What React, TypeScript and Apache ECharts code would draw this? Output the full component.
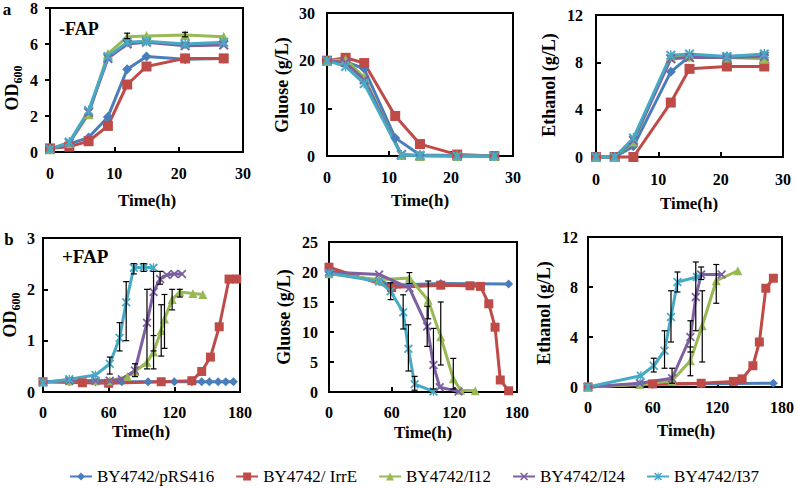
import React, { useEffect, useRef } from 'react';
import * as echarts from 'echarts';

// ---------- data ----------
const seriesNames = ['BY4742/pRS416', 'BY4742/ IrrE', 'BY4742/I12', 'BY4742/I24', 'BY4742/I37'];
const colors = ['#4A7EBB', '#BE4B48', '#98B954', '#7D60A0', '#46AAC5'];

// panel a: -FAP
const aTime = [0, 3, 6, 9, 12, 15, 21, 27];
const a1Blue = [0.2, 0.45, 0.8, 1.95, 4.6, 5.3, 5.15, 5.2];
const a1Red = [0.2, 0.3, 0.6, 1.45, 3.75, 4.75, 5.2, 5.2];
const a1Green = [0.15, 0.5, 2.1, 5.45, 6.4, 6.45, 6.5, 6.4];
const a1Purple = [0.15, 0.5, 2.2, 5.2, 6.0, 6.1, 5.9, 5.95];
const a1Cyan = [0.15, 0.55, 2.3, 5.3, 6.1, 6.15, 6.0, 6.1];
const a1Err = [[12, 6.3, 6.6], [21, 6.4, 6.65]];

const a2TimeSlow = [0, 3, 6, 11, 15, 21, 27];
const a2Time = [0, 3, 6, 12, 15, 21, 27];
const a2Blue = [20, 19.8, 18.3, 3.8, 0.2, 0.1, 0];
const a2Red = [20, 20.6, 19.5, 8.4, 2.5, 0.3, 0];
const a2Green = [20, 20.2, 16.5, 0.2, 0, 0, 0];
const a2Purple = [20, 19.6, 16, 0.3, 0.1, 0, 0];
const a2Cyan = [20, 18.8, 15.2, 0.2, 0.1, 0, 0];

const a3Time = [0, 3, 6, 12, 15, 21, 27];
const a3Blue = [0, 0, 0.9, 7.2, 8.5, 8.5, 8.6];
const a3Red = [0, 0, 0, 4.6, 7.45, 7.65, 7.65];
const a3Green = [0, 0, 1.3, 8.5, 8.5, 8.4, 8.3];
const a3Purple = [0, 0, 1.4, 8.3, 8.4, 8.4, 8.5];
const a3Cyan = [0, 0, 1.6, 8.6, 8.7, 8.5, 8.7];

// panel b: +FAP
const b1BlueT = [0, 24, 48, 72, 96, 120, 136, 145, 152, 160, 167, 174];
const b1BlueV = [0.2, 0.2, 0.2, 0.2, 0.2, 0.2, 0.2, 0.2, 0.2, 0.2, 0.2, 0.2];
const b1RedT = [0, 36, 60, 108, 136, 145, 153, 161, 170, 177];
const b1RedV = [0.2, 0.18, 0.17, 0.2, 0.22, 0.4, 0.68, 1.27, 2.2, 2.2];
const b1GreenT = [0, 24, 48, 61, 77, 84, 95, 101, 108, 111, 118, 125, 137, 146];
const b1GreenV = [0.2, 0.22, 0.22, 0.22, 0.3, 0.4, 0.58, 0.78, 1.2, 1.42, 1.8, 1.95, 1.92, 1.9];
const b1PurpleT = [0, 24, 48, 61, 72, 84, 95, 101, 107, 113, 120, 127];
const b1PurpleV = [0.2, 0.22, 0.22, 0.22, 0.25, 0.42, 1.35, 1.95, 2.2, 2.28, 2.3, 2.3];
const b1CyanT = [0, 24, 48, 61, 70, 76, 83, 92, 101];
const b1CyanV = [0.18, 0.25, 0.33, 0.55, 1.05, 1.75, 2.42, 2.43, 2.42];
const b1Err = [
  [61, 0.35, 0.68], [70, 0.8, 1.35], [76, 1.0, 2.15], [83, 2.3, 2.5], [92, 2.35, 2.5],
  [84, 0.3, 0.55], [95, 0.45, 2.0], [101, 0.8, 2.35], [107, 2.1, 2.35],
  [101, 0.45, 1.1], [108, 0.7, 1.7], [111, 0.85, 1.9], [118, 1.6, 2.0], [125, 1.85, 2.0],
];

const b2BlueT = [0, 48, 60, 107, 172];
const b2BlueV = [20, 18.5, 17.8, 18.1, 18.0];
const b2RedT = [0, 60, 107, 135, 145, 153, 159, 164, 172];
const b2RedV = [20.8, 17.4, 17.8, 17.7, 17.6, 14.7, 10.8, 2.0, 0.2];
const b2GreenT = [0, 48, 77, 95, 107, 119, 126, 140];
const b2GreenV = [19.7, 18.7, 19.0, 15.3, 9.2, 2.2, 0.3, 0.2];
const b2PurpleT = [0, 48, 77, 94, 100, 106, 124];
const b2PurpleV = [20, 19.6, 17.3, 10.9, 4.5, 0.8, 0.1];
const b2CyanT = [0, 48, 59, 71, 76, 82, 100];
const b2CyanV = [19.8, 18.4, 16.8, 13.3, 7.2, 1.3, 0.1];
const b2Err = [
  [59, 15.4, 18.2], [71, 10.5, 16.2], [76, 3.5, 11.2], [82, 0.3, 2.6],
  [94, 7.6, 14.3], [100, 0.5, 10.6],
  [77, 18.1, 19.9], [95, 12.2, 18.5], [107, 4.5, 15], [119, 0.5, 5.6],
];

const b3BlueT = [0, 48, 60, 105, 172];
const b3BlueV = [0, 0.25, 0.2, 0.25, 0.3];
const b3RedT = [0, 60, 105, 135, 143, 153, 159, 165, 172];
const b3RedV = [0, 0.25, 0.3, 0.45, 0.65, 1.7, 3.6, 7.9, 8.7];
const b3GreenT = [0, 48, 78, 95, 106, 119, 139];
const b3GreenV = [0, 0.2, 0.5, 2.1, 4.9, 8.5, 9.3];
const b3PurpleT = [0, 48, 78, 95, 100, 105, 124];
const b3PurpleV = [0, 0.3, 0.7, 4.0, 7.2, 9.0, 9.0];
const b3CyanT = [0, 49, 61, 71, 77, 83, 101];
const b3CyanV = [0, 0.9, 1.7, 2.9, 5.6, 8.4, 8.8];
const b3Err = [
  [61, 1.2, 2.3], [71, 1.5, 4.5], [77, 3.6, 7.7], [83, 7.6, 9.2],
  [78, 0.3, 1.5], [95, 2.8, 5.3], [100, 4.5, 10.0], [105, 8.6, 9.6],
  [95, 0.9, 3.2], [106, 2.0, 7.7], [119, 6.7, 9.8],
];

// ---------- styling ----------
const SERIF = "'Liberation Serif', 'Times New Roman', serif";
const X_PATH = 'path://M0,1.4L1.4,0L10,8.6L8.6,10Z M8.6,0L10,1.4L1.4,10L0,8.6Z';
const STAR_PATH = 'path://M0,1.4L1.4,0L10,8.6L8.6,10Z M8.6,0L10,1.4L1.4,10L0,8.6Z M4.3,0L5.7,0L5.7,10L4.3,10Z';
const symbols = ['diamond', 'rect', 'triangle', X_PATH, STAR_PATH];

type Panel = {
  l: number; t: number; w: number; h: number;
  xMax: number; xInt: number; yMax: number; yInt: number;
  xm: number; ym: number; yTickOut?: boolean; sym: number;
  series: [number[], number[]][];
  err: number[][];
};

const panels: Panel[] = [
  {
    l: 50, t: 7, w: 193, h: 145, xMax: 30, xInt: 10, yMax: 8, yInt: 2, xm: 13, ym: 12, yTickOut: true, sym: 10,
    series: [[aTime, a1Blue], [aTime, a1Red], [aTime, a1Green], [aTime, a1Purple], [aTime, a1Cyan]], err: a1Err,
  },
  {
    l: 327, t: 13, w: 186, h: 143, xMax: 30, xInt: 10, yMax: 30, yInt: 10, xm: 13, ym: 12, sym: 10,
    series: [[a2TimeSlow, a2Blue], [a2TimeSlow, a2Red], [a2Time, a2Green], [a2Time, a2Purple], [a2Time, a2Cyan]], err: [],
  },
  {
    l: 596, t: 15, w: 187, h: 142, xMax: 30, xInt: 10, yMax: 12, yInt: 4, xm: 14, ym: 13, sym: 10,
    series: [[a3Time, a3Blue], [a3Time, a3Red], [a3Time, a3Green], [a3Time, a3Purple], [a3Time, a3Cyan]], err: [],
  },
  {
    l: 43, t: 238, w: 197, h: 154, xMax: 180, xInt: 60, yMax: 3, yInt: 1, xm: 12, ym: 8, sym: 9,
    series: [[b1BlueT, b1BlueV], [b1RedT, b1RedV], [b1GreenT, b1GreenV], [b1PurpleT, b1PurpleV], [b1CyanT, b1CyanV]], err: b1Err,
  },
  {
    l: 329, t: 242, w: 188, h: 150, xMax: 180, xInt: 60, yMax: 25, yInt: 5, xm: 12, ym: 11, sym: 9,
    series: [[b2BlueT, b2BlueV], [b2RedT, b2RedV], [b2GreenT, b2GreenV], [b2PurpleT, b2PurpleV], [b2CyanT, b2CyanV]], err: b2Err,
  },
  {
    l: 588, t: 237, w: 197, h: 150, xMax: 180, xInt: 60, yMax: 12, yInt: 4, xm: 12, ym: 10, sym: 9,
    series: [[b3BlueT, b3BlueV], [b3RedT, b3RedV], [b3GreenT, b3GreenV], [b3PurpleT, b3PurpleV], [b3CyanT, b3CyanV]], err: b3Err,
  },
];

const xNames = [[147, 200], [420, 200], [689, 203], [141, 431], [423, 432], [686, 430]];
const yNames: [string, number, number][] = [
  ['{a|OD}{s|600}', 12, 88],
  ['Gluose (g/L)', 282, 85],
  ['Ethanol (g/L)', 549, 85],
  ['{a|OD}{s|600}', 10, 315],
  ['Gluose (g/L)', 284, 317],
  ['Ethanol (g/L)', 544, 313],
];

const errRender = (params: any, api: any) => {
  const x = api.value(0);
  const p1 = api.coord([x, api.value(1)]);
  const p2 = api.coord([x, api.value(2)]);
  const w = 3;
  const st = { stroke: '#000', lineWidth: 1.2 };
  return {
    type: 'group',
    children: [
      { type: 'line', shape: { x1: p1[0], y1: p1[1], x2: p2[0], y2: p2[1] }, style: st },
      { type: 'line', shape: { x1: p1[0] - w, y1: p1[1], x2: p1[0] + w, y2: p1[1] }, style: st },
      { type: 'line', shape: { x1: p2[0] - w, y1: p2[1], x2: p2[0] + w, y2: p2[1] }, style: st },
    ],
  };
};

function buildOption() {
  const grid: any[] = [];
  const xAxis: any[] = [];
  const yAxis: any[] = [];
  const series: any[] = [];
  const labelStyle = { fontFamily: SERIF, fontWeight: 'bold', fontSize: 16, color: '#000' };
  panels.forEach((p, i) => {
    grid.push({ left: p.l, top: p.t, width: p.w, height: p.h, show: true, borderColor: '#000', borderWidth: 2, backgroundColor: 'transparent' });
    xAxis.push({
      type: 'value', gridIndex: i, min: 0, max: p.xMax, interval: p.xInt,
      axisLine: { show: true, onZero: false, lineStyle: { color: '#000', width: 2 } },
      axisTick: { show: true, inside: true, length: 5, lineStyle: { color: '#000', width: 2 } },
      axisLabel: { ...labelStyle, margin: p.xm },
      splitLine: { show: false },
    });
    yAxis.push({
      type: 'value', gridIndex: i, min: 0, max: p.yMax, interval: p.yInt,
      axisLine: { show: true, onZero: false, lineStyle: { color: '#000', width: 2 } },
      axisTick: { show: true, inside: !p.yTickOut, length: 5, lineStyle: { color: '#000', width: 2 } },
      axisLabel: { ...labelStyle, margin: p.ym },
      splitLine: { show: false },
    });
    p.series.forEach(([t, v], k) => {
      series.push({
        type: 'line', name: seriesNames[k], xAxisIndex: i, yAxisIndex: i,
        data: t.map((tt, j) => [tt, v[j]]),
        symbol: symbols[k], symbolSize: p.sym, showAllSymbol: true,
        lineStyle: { width: 3, color: colors[k] }, itemStyle: { color: colors[k] },
        clip: false, z: 2,
      });
    });
    if (p.err.length) {
      series.push({
        type: 'custom', name: 'errorbar', xAxisIndex: i, yAxisIndex: i,
        data: p.err, renderItem: errRender, encode: { x: 0, y: [1, 2] }, z: 5, silent: true, clip: false,
      });
    }
  });

  const graphic: any[] = [];
  const bold = (size: number) => `bold ${size}px ${SERIF}`;
  graphic.push({ type: 'text', x: 7, y: 9, style: { text: 'a', font: bold(17), fill: '#000', align: 'center', verticalAlign: 'middle' } });
  graphic.push({ type: 'text', x: 9, y: 239, style: { text: 'b', font: bold(17), fill: '#000', align: 'center', verticalAlign: 'middle' } });
  graphic.push({ type: 'text', x: 59, y: 29, style: { text: '-FAP', font: bold(18), fill: '#000', align: 'left', verticalAlign: 'middle' } });
  graphic.push({ type: 'text', x: 62, y: 256, style: { text: '+FAP', font: bold(19), fill: '#000', align: 'left', verticalAlign: 'middle' } });
  xNames.forEach(([x, y]) => {
    graphic.push({ type: 'text', x, y, style: { text: 'Time(h)', font: bold(17), fill: '#000', align: 'center', verticalAlign: 'middle' } });
  });
  yNames.forEach(([txt, x, y]) => {
    graphic.push({
      type: 'text', x, y, rotation: Math.PI / 2,
      style: {
        text: txt, font: bold(18), fill: '#000', align: 'center', verticalAlign: 'middle',
        rich: {
          a: { fontFamily: SERIF, fontWeight: 'bold', fontSize: 18, lineHeight: 24, fill: '#000' },
          s: { fontFamily: SERIF, fontWeight: 'bold', fontSize: 12, lineHeight: 12, verticalAlign: 'bottom', fill: '#000' },
        },
      },
    });
  });

  return {
    animation: false,
    backgroundColor: '#fff',
    grid, xAxis, yAxis, series, graphic,
    legend: {
      data: seriesNames,
      left: 64, top: 463,
      itemWidth: 22, itemHeight: 10, itemGap: 21,
      textStyle: { fontFamily: SERIF, fontSize: 17, color: '#000' },
      selectedMode: false,
    },
  };
}

export default function App() {
  const ref = useRef<HTMLDivElement>(null);
  useEffect(() => {
    if (!ref.current) return;
    const chart = echarts.init(ref.current, undefined, { renderer: 'svg' });
    chart.setOption(buildOption() as any);
    return () => chart.dispose();
  }, []);
  return <div ref={ref} style={{ position: 'absolute', left: 0, top: 0, width: 797, height: 488, background: '#fff' }} />;
}
